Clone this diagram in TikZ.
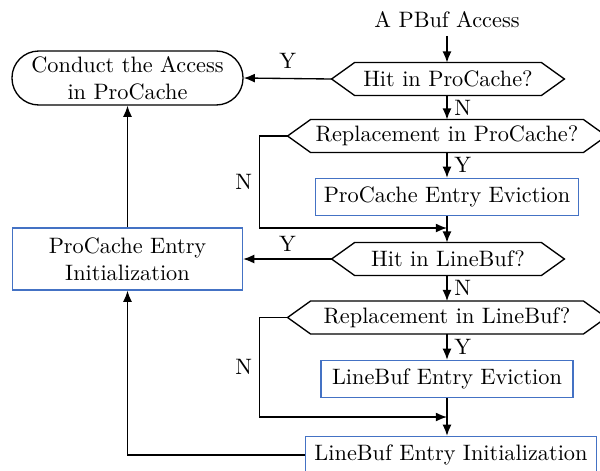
\documentclass[tikz,border=0pt]{standalone}
\usetikzlibrary{arrows.meta}
\definecolor{boxblue}{RGB}{68,114,196}
\newcommand\drawhexa[1]{%
  \draw[hexline] (#1.north west) -- (#1.north east) -- ([xshift=10.3pt]#1.east)
    -- (#1.south east) -- (#1.south west) -- ([xshift=-10.3pt]#1.west) -- cycle;
  \coordinate (#1W) at ([xshift=-10.3pt]#1.west);}
\begin{document}
\begin{tikzpicture}[x=0.4484pt,y=-0.4484pt,
  every node/.style={font=\normalsize},
  hexline/.style={line width=0.6pt},
  hexa/.style={inner sep=0pt, minimum height=14.35pt},
  bluebox/.style={draw=boxblue, line width=0.6pt, align=center, inner sep=2pt},
  roundbox/.style={draw, line width=0.6pt, rounded corners=12pt, align=center, inner sep=2pt},
  arr/.style={line width=0.6pt, -{Latex[length=5pt,width=4pt]}},
  lbl/.style={inner sep=3pt}]
\clip (0,0) rectangle (600,470);

\node (start) at (447,20) {A PBuf Access};
\node[hexa, minimum width=83.4pt] (hit1) at (448,79) {Hit in ProCache?};
\drawhexa{hit1}
\node[roundbox, minimum width=103.6pt, minimum height=24.2pt] (conduct) at (127.5,78) {Conduct the Access\\in ProCache};
\node[hexa, minimum width=122pt] (rep1) at (447,136) {Replacement in ProCache?};
\drawhexa{rep1}
\node[bluebox, minimum width=117.9pt, minimum height=16.6pt] (evic1) at (447,197) {ProCache Entry Eviction};
\node[hexa, minimum width=83.4pt] (hit2) at (448,259) {Hit in LineBuf?};
\drawhexa{hit2}
\node[bluebox, minimum width=103.1pt, minimum height=27.8pt] (pinit) at (127.5,259) {ProCache Entry\\Initialization};
\node[hexa, minimum width=122pt] (rep2) at (447,317.5) {Replacement in LineBuf?};
\drawhexa{rep2}
\node[bluebox, minimum width=113pt, minimum height=16.6pt] (evic2) at (447,379) {LineBuf Entry Eviction};
\node[bluebox, minimum width=130.5pt, minimum height=16.6pt] (linit) at (451,455) {LineBuf Entry Initialization};

\coordinate (j1) at (447,228);
\coordinate (j2) at (447,417);

\draw[arr] (start) -- (start.south |- hit1.north);
\draw[arr] (hit1W) -- (conduct.east) node[midway, above, lbl, yshift=1pt] {Y};
\draw[arr] (hit1.south -| rep1.north) -- (rep1.north) node[midway, right, lbl] {N};
\draw[arr] (rep1W) -- ++(-28,0) |- (j1) node[pos=0.25, left, lbl] {N};
\draw[arr] (rep1) -- (evic1) node[midway, right, lbl] {Y};
\draw[arr] (evic1.south) -- (evic1.south |- hit2.north);
\draw[arr] (hit2W) -- (pinit.east) node[midway, above, lbl] {Y};
\draw[arr] (hit2.south -| rep2.north) -- (rep2.north) node[midway, right, lbl] {N};
\draw[arr] (rep2W) -- ++(-28,0) |- (j2) node[pos=0.25, left, lbl] {N};
\draw[arr] (rep2) -- (evic2) node[midway, right, lbl] {Y};
\draw[arr] (evic2.south) -- (evic2.south |- linit.north);
\draw[arr] (linit.west) -| (pinit.south);
\draw[arr] (pinit) -- (conduct);
\end{tikzpicture}
\end{document}
